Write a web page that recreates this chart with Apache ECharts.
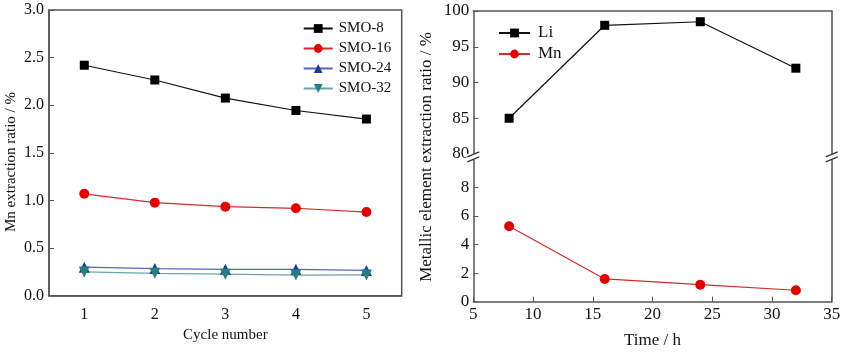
<!DOCTYPE html>
<html><head><meta charset="utf-8">
<script src="https://cdn.jsdelivr.net/npm/echarts@6/dist/echarts.min.js"></script>
<style>html,body{margin:0;padding:0;background:#fff}#c{width:850px;height:356px}</style>
</head><body><div id="c"></div>
<script>
// Left chart data
const cycles = ['1','2','3','4','5'];
const smo8 = [2.42, 2.265, 2.075, 1.945, 1.855];
const smo16 = [1.07, 0.977, 0.935, 0.918, 0.878];
const smo24 = [0.30, 0.285, 0.277, 0.277, 0.265];
const smo32 = [0.25, 0.235, 0.226, 0.217, 0.218];
// Right chart data
const times = [8, 16, 24, 32];
const li = [85.0, 98.0, 98.5, 92.0];
const mn = [5.27, 1.59, 1.19, 0.80];

const FONT = 'Liberation Serif';
const AX = '#555';
const txt = {fontFamily: FONT, fontSize: 15, color: '#111'};
const tickTxt = {fontFamily: FONT, fontSize: 16, color: '#111'};
const rTxt = {fontFamily: FONT, fontSize: 17, color: '#111'};
const pair = (xs, ys) => xs.map((x, i) => [x, ys[i]]);

const chart = echarts.init(document.getElementById('c'), null, {renderer: 'canvas'});

const LG = {left: 49, top: 10, width: 352.7, height: 285.7};
const RU = {left: 473.3, top: 11, width: 358.4, height: 143};
const RL = {left: 473.3, top: 158.7, width: 358.4, height: 143};

function line(name, data, lineColor, markColor, symbol, size, xi, yi) {
  return {
    name, type: 'line', data, xAxisIndex: xi, yAxisIndex: yi,
    symbol, symbolSize: size, showSymbol: true,
    lineStyle: {color: lineColor, width: 1.2},
    itemStyle: {color: markColor},
    emphasis: {disabled: true}, animation: false
  };
}

const option = {
  animation: false,
  textStyle: {fontFamily: FONT},
  grid: [
    Object.assign({show: true, borderColor: AX, borderWidth: 1.5, backgroundColor: 'transparent'}, LG),
    Object.assign({}, RU),
    Object.assign({}, RL)
  ],
  legend: [
    {
      data: ['SMO-8', 'SMO-16', 'SMO-24', 'SMO-32'],
      orient: 'vertical', left: 297.7, top: 15.5,
      itemWidth: 29, itemHeight: 11, itemGap: 4,
      textStyle: Object.assign({}, txt, {lineHeight: 16, padding: [0,0,0,1]})
    },
    {
      data: ['Li', 'Mn'],
      orient: 'vertical', left: 493, top: 19,
      itemWidth: 31, itemHeight: 11, itemGap: 3,
      textStyle: Object.assign({}, rTxt, {lineHeight: 18, padding: [0,0,0,3]})
    }
  ],
  xAxis: [
    {
      gridIndex: 0, type: 'category', data: cycles, boundaryGap: true,
      axisLine: {lineStyle: {color: AX, width: 1.5}},
      axisTick: {alignWithLabel: true, inside: false, length: 5, lineStyle: {color: AX}},
      axisLabel: Object.assign({}, tickTxt, {margin: 11}),
      name: 'Cycle number', nameLocation: 'middle', nameGap: 32,
      nameTextStyle: txt, splitLine: {show: false}
    },
    {
      gridIndex: 1, type: 'value', min: 5, max: 35, interval: 5, position: 'top',
      axisLine: {lineStyle: {color: AX, width: 1.5}},
      axisTick: {show: false}, axisLabel: {show: false}, splitLine: {show: false}
    },
    {
      gridIndex: 2, type: 'value', min: 5, max: 35, interval: 5, position: 'bottom',
      axisLine: {lineStyle: {color: AX, width: 1.5}},
      axisTick: {inside: true, length: 5, lineStyle: {color: AX}},
      axisLabel: Object.assign({}, rTxt, {margin: 4}),
      name: 'Time / h', nameLocation: 'middle', nameGap: 30,
      nameTextStyle: rTxt, splitLine: {show: false}
    }
  ],
  yAxis: [
    {
      gridIndex: 0, type: 'value', min: 0, max: 3, interval: 0.5,
      axisLine: {show: true, lineStyle: {color: AX, width: 1.5}},
      axisTick: {show: true, inside: true, length: 5, lineStyle: {color: AX}},
      axisLabel: Object.assign({}, tickTxt, {margin: 5, formatter: v => v.toFixed(1)}),
      splitLine: {show: false}
    },
    {
      gridIndex: 1, type: 'value', min: 80, max: 100, interval: 5,
      axisLine: {show: true, lineStyle: {color: AX, width: 1.5}},
      axisTick: {show: true, inside: true, length: 5, lineStyle: {color: AX}},
      axisLabel: Object.assign({}, rTxt, {margin: 4}),
      splitLine: {show: false}
    },
    {
      gridIndex: 1, type: 'value', min: 80, max: 100, interval: 5, position: 'right',
      axisLine: {show: true, lineStyle: {color: AX, width: 1.5}},
      axisTick: {show: false}, axisLabel: {show: false}, splitLine: {show: false}
    },
    {
      gridIndex: 2, type: 'value', min: 0, max: 10, interval: 2,
      axisLine: {show: true, lineStyle: {color: AX, width: 1.5}},
      axisTick: {show: true, inside: true, length: 5, lineStyle: {color: AX}},
      axisLabel: Object.assign({}, rTxt, {margin: 4, formatter: v => v >= 10 ? '' : String(v)}),
      splitLine: {show: false}
    },
    {
      gridIndex: 2, type: 'value', min: 0, max: 10, interval: 2, position: 'right',
      axisLine: {show: true, lineStyle: {color: AX, width: 1.5}},
      axisTick: {show: false}, axisLabel: {show: false}, splitLine: {show: false}
    }
  ],
  series: [
    line('SMO-8', smo8, '#111', '#000', 'rect', 9, 0, 0),
    line('SMO-16', smo16, '#d42a2a', '#e00000', 'circle', 10, 0, 0),
    line('SMO-24', smo24, '#5566b8', '#1f3c99', 'triangle', 11, 0, 0),
    line('SMO-32', smo32, '#6aa6a6', '#2a7d80', 'path://M0,0 L10,0 L5,10 Z', 11, 0, 0),
    line('Li', pair(times, li), '#111', '#000', 'rect', 9, 1, 1),
    line('Mn', pair(times, mn), '#d42a2a', '#e00000', 'circle', 10, 2, 3)
  ]
};
chart.setOption(option);

// Axis titles placed as text, plus axis-break marks for the right chart
function brk(x, y) {
  return [
    {type: 'rect', shape: {x: x - 7, y: y - 3, width: 14, height: 6}, style: {fill: '#fff'}, z: 100},
    {type: 'line', shape: {x1: x - 6, y1: y, x2: x + 6, y2: y - 5}, style: {stroke: '#333', lineWidth: 1.2}, z: 101},
    {type: 'line', shape: {x1: x - 6, y1: y + 5, x2: x + 6, y2: y}, style: {stroke: '#333', lineWidth: 1.2}, z: 101}
  ];
}
const yb = (RU.top + RU.height + RL.top) / 2;
chart.setOption({
  graphic: [
    {type: 'text', x: 11, y: 162, rotation: Math.PI / 2,
     style: {text: 'Mn extraction ratio / %', font: '15px "Liberation Serif"', fill: '#111', align: 'center', verticalAlign: 'middle'}, z: 100},
    {type: 'text', x: 427, y: 157, rotation: Math.PI / 2,
     style: {text: 'Metallic element extraction ratio / %', font: '17px "Liberation Serif"', fill: '#111', align: 'center', verticalAlign: 'middle'}, z: 100}
  ].concat(brk(RU.left, yb + 0.5), brk(RU.left + RU.width, yb + 0.5))
});
</script></body></html>
